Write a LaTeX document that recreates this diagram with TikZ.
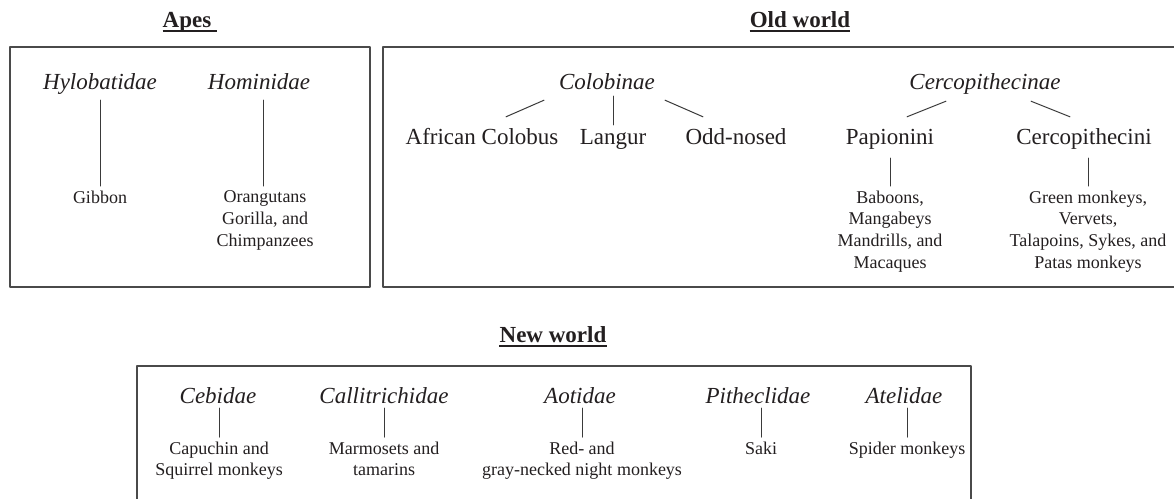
\documentclass[tikz,border=0pt]{standalone}
\usepackage{fontspec}
\setmainfont{Liberation Serif}
\definecolor{primInk}{HTML}{231F20}
\definecolor{primLine}{HTML}{3A3A3A}
\definecolor{primFrame}{HTML}{4A4A4A}

\begin{document}
\begin{tikzpicture}[x=1pt,y=-1pt,line cap=round,line join=round]
\useasboundingbox[fill=white] (0,0) rectangle (1174,498);
\tikzset{title/.style={font=\fontsize{23}{27}\selectfont\bfseries,text=primInk,anchor=base,inner sep=0pt},underbar/.style={draw=primInk,line width=1.6pt,line cap=butt},family/.style={font=\fontsize{23}{27}\selectfont\itshape,text=primInk,anchor=base,inner sep=0pt,text height=17pt,text depth=5pt},tribe/.style={font=\fontsize{23}{27}\selectfont,text=primInk,anchor=base,inner sep=0pt,text height=17pt,text depth=5pt},leaf/.style={font=\fontsize{18}{21.7}\selectfont,text=primInk,align=center,anchor=north,inner sep=0pt},link/.style={draw=primLine,line width=1pt},frame/.style={draw=primFrame,line width=1.4pt}}
\node[title] (apesT) at (190,27) {Apes\kern6pt};
\node[title] (oldT) at (800,27) {Old world};
\node[title] (newT) at (553,342) {New world};
\draw[underbar] ([yshift=-4pt]apesT.base west) -- ([yshift=-4pt]apesT.base east);
\draw[underbar] ([yshift=-4pt]oldT.base west) -- ([yshift=-4pt]oldT.base east);
\draw[underbar] ([yshift=-4pt]newT.base west) -- ([yshift=-4pt]newT.base east);
\draw[frame] (10,47) rectangle (370,287); \draw[frame] (383,47) rectangle (1190,287); \draw[frame] (137,366) rectangle (971,510);
\node[family] (hylo) at (100,89) {Hylobatidae}; \node[family] (homin) at (259,89) {Hominidae};
\node[leaf] (gibbon) at (100,190.6) {Gibbon};
\node[leaf] (orang) at (265,190.6) {Orangutans\\Gorilla, and\\Chimpanzees};
\draw[link,shorten <=6pt,shorten >=4.6pt] (gibbon.north |- hylo.south) -- (gibbon.north);
\draw[link,shorten <=6pt,shorten >=4.6pt] ([xshift=-2pt]orang.north |- homin.south) -- ([xshift=-2pt]orang.north);
\node[family] (colob) at (607,89) {Colobinae}; \node[family] (cerco) at (985,89) {Cercopithecinae};
\node[tribe] (afric) at (482,144) {African Colobus}; \node[tribe] (langur) at (613,144) {Langur}; \node[tribe] (oddn) at (736,144) {Odd-nosed};
\node[tribe] (papio) at (890,144) {Papionini}; \node[tribe] (cerci) at (1084,144) {Cercopithecini};
\draw[link] ([shift={(-63,6)}]colob.south) -- ([shift={(24,-10)}]afric.north);
\draw[link,shorten <=2pt,shorten >=2pt] (langur.north |- colob.south) -- (langur.north);
\draw[link] ([shift={(58,6)}]colob.south) -- ([shift={(-33,-10)}]oddn.north);
\draw[link] ([shift={(-39,7)}]cerco.south) -- ([shift={(17,-10)}]papio.north);
\draw[link] ([shift={(46,7)}]cerco.south) -- ([shift={(-14,-10)}]cerci.north);
\node[leaf] (baboon) at (890,190.6) {Baboons,\\Mangabeys\\Mandrills, and\\Macaques};
\node[leaf] (green) at (1088,190.6) {Green monkeys,\\Vervets,\\Talapoins, Sykes, and\\Patas monkeys};
\draw[link,shorten <=9pt,shorten >=4.6pt] (baboon.north |- papio.south) -- (baboon.north);
\draw[link,shorten <=9pt,shorten >=4.6pt] (green.north |- cerci.south) -- (green.north);
\node[family] (cebid) at (218,403) {Cebidae}; \node[family] (calli) at (384,403) {Callitrichidae}; \node[family] (aotid) at (580,403) {Aotidae};
\node[family] (pithe) at (758,403) {Pitheclidae}; \node[family] (ateli) at (904,403) {Atelidae};
\node[leaf] (capu) at (219,441.6) {Capuchin and\\Squirrel monkeys};
\node[leaf] (marmo) at (384,441.6) {Marmosets and\\tamarins};
\node[leaf] (night) at (582,441.6) {Red- and\\gray-necked night monkeys};
\node[leaf] (saki) at (761,441.6) {Saki};
\node[leaf] (spider) at (907,441.6) {Spider monkeys};
\draw[link,shorten >=4.6pt] (capu.north |- cebid.south) -- (capu.north);
\draw[link,shorten >=4.6pt] (marmo.north |- calli.south) -- (marmo.north);
\draw[link,shorten >=4.6pt] (night.north |- aotid.south) -- (night.north);
\draw[link,shorten >=4.6pt] (saki.north |- pithe.south) -- (saki.north);
\draw[link,shorten >=4.6pt] (spider.north |- ateli.south) -- (spider.north);
\end{tikzpicture}
\end{document}
